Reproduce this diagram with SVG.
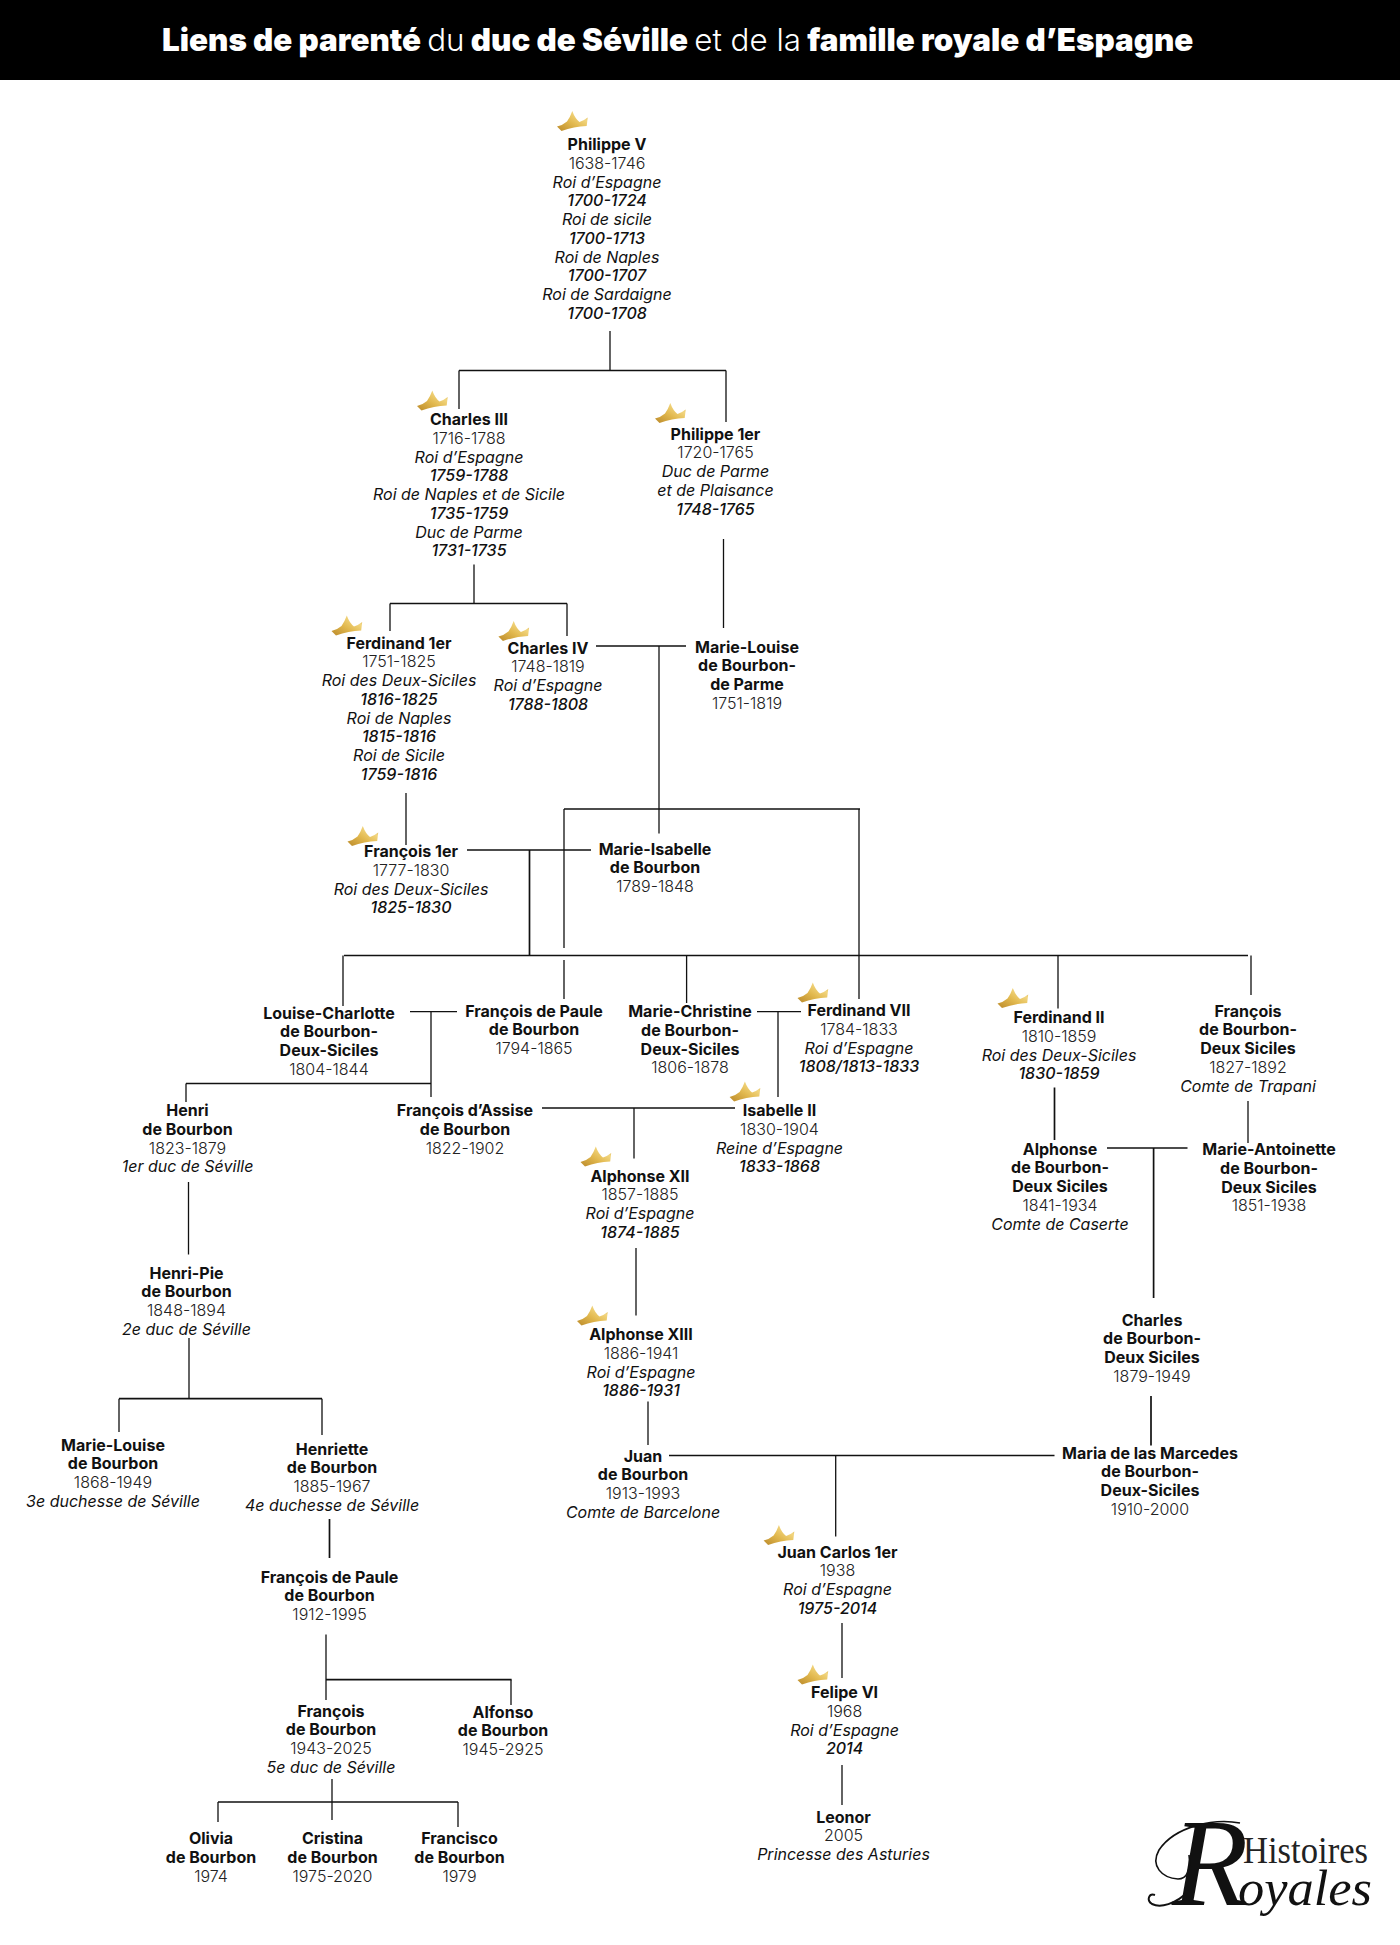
<svg xmlns="http://www.w3.org/2000/svg" width="1400" height="1945" viewBox="0 0 1400 1945">
<style>
text{font-family:"Inter","Noto Sans","Liberation Sans",sans-serif;font-size:16px;text-anchor:middle;fill:#111}
.n{font-weight:700}
.d{font-weight:300;fill:#222}
.t{font-style:italic;font-weight:400}
.y{font-style:italic;font-weight:500}
text.title{font-size:31.35px;fill:#fff;font-weight:900}
.title .l{font-weight:300}
.c path{fill:none;stroke:#111;stroke-width:1.3}
.c path.h{stroke-width:1.7}
text.lg{font-family:"Liberation Serif",serif;text-anchor:start;fill:#111}
text.lg1{font-size:37px;fill:#222}
text.lg2{font-size:125px;font-style:italic}
text.lg3{font-size:50px;font-style:italic}
</style>
<defs>
<linearGradient id="gold" x1="0" y1="1" x2="1" y2="0"><stop offset="0" stop-color="#bb8a2a"/><stop offset=".45" stop-color="#e2b94f"/><stop offset=".75" stop-color="#f2d680"/><stop offset="1" stop-color="#c99b36"/></linearGradient>
<path id="crown" d="M-15,4Q-9,2.5-5,-1Q-2,-5 .3,-11.5Q3,-4 7.5,-.5Q12,-2 15.7,-5L14.7,3.5Q2,4-10.5,8.5Q-13,6-15,4Z" fill="url(#gold)"/>
</defs>
<rect id="banner" width="1400" height="80" fill="#000"/>
<text class="title" x="677.7" y="51">Liens de parenté <tspan class="l">du</tspan> duc de Séville <tspan class="l">et de la</tspan> famille royale d’Espagne</text>
<g class="c" id="connectors">
<path d="M610,331V370.5"/><path class="h" d="M459,370.5H726"/><path d="M459,370.5V409M726,370.5V422"/>
<path d="M474,564.5V603.5"/><path d="M723.5,539V628"/><path class="h" d="M390,603.5H567"/><path d="M390,603.5V631M567,603.5V636"/>
<path d="M596,646H686"/><path d="M659,646V833.5"/><path class="h" d="M564,809H860"/><path d="M564,809V948M564,960V999M859,809V999"/>
<path d="M406,793V845"/><path class="h" d="M467,850H591"/><path class="h" d="M529.5,850V955.5"/><path class="h" d="M344,955.5H1248"/>
<path d="M343,955.5V1006M686.6,955.5V1003M1058,955.5V1008.5M1251,955.5V995"/>
<path d="M410,1011.6H457M431,1011.6V1097"/><path class="h" d="M186,1083.5H431"/><path d="M186,1083.5V1102"/>
<path d="M757,1011.6H801M778,1011.6V1097"/><path class="h" d="M542,1108H735"/><path d="M634,1108V1158.5"/><path d="M636,1248V1315.6"/>
<path d="M188.5,1182V1254.5"/><path class="h" d="M1054.5,1087.5V1140"/><path d="M1248,1101V1143"/><path class="h" d="M1107,1148H1187.5"/><path class="h" d="M1153.6,1148V1298"/>
<path class="h" d="M1151,1396V1445.6"/><path d="M189,1338V1398.7"/><path class="h" d="M119,1398.7H322"/><path d="M119,1398.7V1432M322,1398.7V1435"/>
<path d="M648,1401.6V1445"/><path class="h" d="M669,1455.5H1054.5"/><path d="M835.7,1455.5V1536.5"/><path d="M842,1623V1678M842,1765V1805"/>
<path class="h" d="M329.5,1519V1558"/><path d="M326,1634.4V1700"/><path class="h" d="M326,1679.7H511.6"/><path d="M511,1679.7V1705"/>
<path d="M332,1779V1820"/><path class="h" d="M218,1802H458"/><path d="M218,1802V1822M458,1802V1827"/>
</g>
<g id="philippe-v"><use href="#crown" x="572" y="122.5"/><text y="150"><tspan class="n" x="607">Philippe V</tspan><tspan class="d" x="607" dy="18.75">1638-1746</tspan><tspan class="t" x="607" dy="18.75">Roi d’Espagne</tspan><tspan class="y" x="607" dy="18.75">1700-1724</tspan><tspan class="t" x="607" dy="18.75">Roi de sicile</tspan><tspan class="y" x="607" dy="18.75">1700-1713</tspan><tspan class="t" x="607" dy="18.75">Roi de Naples</tspan><tspan class="y" x="607" dy="18.75">1700-1707</tspan><tspan class="t" x="607" dy="18.75">Roi de Sardaigne</tspan><tspan class="y" x="607" dy="18.75">1700-1708</tspan></text></g>
<g id="charles-iii"><use href="#crown" x="432" y="402"/><text y="425"><tspan class="n" x="469">Charles III</tspan><tspan class="d" x="469" dy="18.75">1716-1788</tspan><tspan class="t" x="469" dy="18.75">Roi d’Espagne</tspan><tspan class="y" x="469" dy="18.75">1759-1788</tspan><tspan class="t" x="469" dy="18.75">Roi de Naples et de Sicile</tspan><tspan class="y" x="469" dy="18.75">1735-1759</tspan><tspan class="t" x="469" dy="18.75">Duc de Parme</tspan><tspan class="y" x="469" dy="18.75">1731-1735</tspan></text></g>
<g id="philippe-1er"><use href="#crown" x="670" y="414.5"/><text y="439.5"><tspan class="n" x="715.5">Philippe 1er</tspan><tspan class="d" x="715.5" dy="18.75">1720-1765</tspan><tspan class="t" x="715.5" dy="18.75">Duc de Parme</tspan><tspan class="t" x="715.5" dy="18.75">et de Plaisance</tspan><tspan class="y" x="715.5" dy="18.75">1748-1765</tspan></text></g>
<g id="ferdinand-1er"><use href="#crown" x="346.5" y="627"/><text y="648.5"><tspan class="n" x="399">Ferdinand 1er</tspan><tspan class="d" x="399" dy="18.75">1751-1825</tspan><tspan class="t" x="399" dy="18.75">Roi des Deux-Siciles</tspan><tspan class="y" x="399" dy="18.75">1816-1825</tspan><tspan class="t" x="399" dy="18.75">Roi de Naples</tspan><tspan class="y" x="399" dy="18.75">1815-1816</tspan><tspan class="t" x="399" dy="18.75">Roi de Sicile</tspan><tspan class="y" x="399" dy="18.75">1759-1816</tspan></text></g>
<g id="charles-iv"><use href="#crown" x="513.4" y="632.6"/><text y="653.5"><tspan class="n" x="548">Charles IV</tspan><tspan class="d" x="548" dy="18.75">1748-1819</tspan><tspan class="t" x="548" dy="18.75">Roi d’Espagne</tspan><tspan class="y" x="548" dy="18.75">1788-1808</tspan></text></g>
<g id="marie-louise-parme"><text y="652.5"><tspan class="n" x="747">Marie-Louise</tspan><tspan class="n" x="747" dy="18.75">de Bourbon-</tspan><tspan class="n" x="747" dy="18.75">de Parme</tspan><tspan class="d" x="747" dy="18.75">1751-1819</tspan></text></g>
<g id="francois-1er"><use href="#crown" x="362.5" y="837.5"/><text y="857"><tspan class="n" x="411">François 1er</tspan><tspan class="d" x="411" dy="18.75">1777-1830</tspan><tspan class="t" x="411" dy="18.75">Roi des Deux-Siciles</tspan><tspan class="y" x="411" dy="18.75">1825-1830</tspan></text></g>
<g id="marie-isabelle"><text y="854.5"><tspan class="n" x="655">Marie-Isabelle</tspan><tspan class="n" x="655" dy="18.75">de Bourbon</tspan><tspan class="d" x="655" dy="18.75">1789-1848</tspan></text></g>
<g id="louise-charlotte"><text y="1018.5"><tspan class="n" x="329">Louise-Charlotte</tspan><tspan class="n" x="329" dy="18.75">de Bourbon-</tspan><tspan class="n" x="329" dy="18.75">Deux-Siciles</tspan><tspan class="d" x="329" dy="18.75">1804-1844</tspan></text></g>
<g id="francois-de-paule"><text y="1016.5"><tspan class="n" x="534">François de Paule</tspan><tspan class="n" x="534" dy="18.75">de Bourbon</tspan><tspan class="d" x="534" dy="18.75">1794-1865</tspan></text></g>
<g id="marie-christine"><text y="1017"><tspan class="n" x="690">Marie-Christine</tspan><tspan class="n" x="690" dy="18.75">de Bourbon-</tspan><tspan class="n" x="690" dy="18.75">Deux-Siciles</tspan><tspan class="d" x="690" dy="18.75">1806-1878</tspan></text></g>
<g id="ferdinand-vii"><use href="#crown" x="812.5" y="994"/><text y="1016"><tspan class="n" x="859">Ferdinand VII</tspan><tspan class="d" x="859" dy="18.75">1784-1833</tspan><tspan class="t" x="859" dy="18.75">Roi d’Espagne</tspan><tspan class="y" x="859" dy="18.75">1808/1813-1833</tspan></text></g>
<g id="ferdinand-ii"><use href="#crown" x="1012.5" y="999.5"/><text y="1023"><tspan class="n" x="1059">Ferdinand II</tspan><tspan class="d" x="1059" dy="18.75">1810-1859</tspan><tspan class="t" x="1059" dy="18.75">Roi des Deux-Siciles</tspan><tspan class="y" x="1059" dy="18.75">1830-1859</tspan></text></g>
<g id="francois-trapani"><text y="1016.5"><tspan class="n" x="1248">François</tspan><tspan class="n" x="1248" dy="18.75">de Bourbon-</tspan><tspan class="n" x="1248" dy="18.75">Deux Siciles</tspan><tspan class="d" x="1248" dy="18.75">1827-1892</tspan><tspan class="t" x="1248" dy="18.75">Comte de Trapani</tspan></text></g>
<g id="henri"><text y="1116"><tspan class="n" x="187.5">Henri</tspan><tspan class="n" x="187.5" dy="18.75">de Bourbon</tspan><tspan class="d" x="187.5" dy="18.75">1823-1879</tspan><tspan class="t" x="187.5" dy="18.75">1er duc de Séville</tspan></text></g>
<g id="francois-assise"><text y="1116"><tspan class="n" x="465">François d’Assise</tspan><tspan class="n" x="465" dy="18.75">de Bourbon</tspan><tspan class="d" x="465" dy="18.75">1822-1902</tspan></text></g>
<g id="isabelle-ii"><use href="#crown" x="744.6" y="1093"/><text y="1116"><tspan class="n" x="779.5">Isabelle II</tspan><tspan class="d" x="779.5" dy="18.75">1830-1904</tspan><tspan class="t" x="779.5" dy="18.75">Reine d’Espagne</tspan><tspan class="y" x="779.5" dy="18.75">1833-1868</tspan></text></g>
<g id="alphonse-xii"><use href="#crown" x="595.5" y="1158"/><text y="1181.5"><tspan class="n" x="640">Alphonse XII</tspan><tspan class="d" x="640" dy="18.75">1857-1885</tspan><tspan class="t" x="640" dy="18.75">Roi d’Espagne</tspan><tspan class="y" x="640" dy="18.75">1874-1885</tspan></text></g>
<g id="alphonse-caserte"><text y="1154.5"><tspan class="n" x="1060">Alphonse</tspan><tspan class="n" x="1060" dy="18.75">de Bourbon-</tspan><tspan class="n" x="1060" dy="18.75">Deux Siciles</tspan><tspan class="d" x="1060" dy="18.75">1841-1934</tspan><tspan class="t" x="1060" dy="18.75">Comte de Caserte</tspan></text></g>
<g id="marie-antoinette"><text y="1155"><tspan class="n" x="1269">Marie-Antoinette</tspan><tspan class="n" x="1269" dy="18.75">de Bourbon-</tspan><tspan class="n" x="1269" dy="18.75">Deux Siciles</tspan><tspan class="d" x="1269" dy="18.75">1851-1938</tspan></text></g>
<g id="henri-pie"><text y="1278.5"><tspan class="n" x="186.5">Henri-Pie</tspan><tspan class="n" x="186.5" dy="18.75">de Bourbon</tspan><tspan class="d" x="186.5" dy="18.75">1848-1894</tspan><tspan class="t" x="186.5" dy="18.75">2e duc de Séville</tspan></text></g>
<g id="alphonse-xiii"><use href="#crown" x="592" y="1317"/><text y="1340"><tspan class="n" x="641">Alphonse XIII</tspan><tspan class="d" x="641" dy="18.75">1886-1941</tspan><tspan class="t" x="641" dy="18.75">Roi d’Espagne</tspan><tspan class="y" x="641" dy="18.75">1886-1931</tspan></text></g>
<g id="charles-deux-siciles"><text y="1325.5"><tspan class="n" x="1152">Charles</tspan><tspan class="n" x="1152" dy="18.75">de Bourbon-</tspan><tspan class="n" x="1152" dy="18.75">Deux Siciles</tspan><tspan class="d" x="1152" dy="18.75">1879-1949</tspan></text></g>
<g id="marie-louise-seville"><text y="1450.5"><tspan class="n" x="113">Marie-Louise</tspan><tspan class="n" x="113" dy="18.75">de Bourbon</tspan><tspan class="d" x="113" dy="18.75">1868-1949</tspan><tspan class="t" x="113" dy="18.75">3e duchesse de Séville</tspan></text></g>
<g id="henriette"><text y="1454.5"><tspan class="n" x="332">Henriette</tspan><tspan class="n" x="332" dy="18.75">de Bourbon</tspan><tspan class="d" x="332" dy="18.75">1885-1967</tspan><tspan class="t" x="332" dy="18.75">4e duchesse de Séville</tspan></text></g>
<g id="juan"><text y="1461.5"><tspan class="n" x="643">Juan</tspan><tspan class="n" x="643" dy="18.75">de Bourbon</tspan><tspan class="d" x="643" dy="18.75">1913-1993</tspan><tspan class="t" x="643" dy="18.75">Comte de Barcelone</tspan></text></g>
<g id="maria-mercedes"><text y="1458.5"><tspan class="n" x="1150">Maria de las Marcedes</tspan><tspan class="n" x="1150" dy="18.75">de Bourbon-</tspan><tspan class="n" x="1150" dy="18.75">Deux-Siciles</tspan><tspan class="d" x="1150" dy="18.75">1910-2000</tspan></text></g>
<g id="juan-carlos"><use href="#crown" x="778.6" y="1536.5"/><text y="1557.5"><tspan class="n" x="837.5">Juan Carlos 1er</tspan><tspan class="d" x="837.5" dy="18.75">1938</tspan><tspan class="t" x="837.5" dy="18.75">Roi d’Espagne</tspan><tspan class="y" x="837.5" dy="18.75">1975-2014</tspan></text></g>
<g id="francois-de-paule-2"><text y="1582.5"><tspan class="n" x="329.5">François de Paule</tspan><tspan class="n" x="329.5" dy="18.75">de Bourbon</tspan><tspan class="d" x="329.5" dy="18.75">1912-1995</tspan></text></g>
<g id="felipe-vi"><use href="#crown" x="812.5" y="1676"/><text y="1698"><tspan class="n" x="844.6">Felipe VI</tspan><tspan class="d" x="844.6" dy="18.75">1968</tspan><tspan class="t" x="844.6" dy="18.75">Roi d’Espagne</tspan><tspan class="y" x="844.6" dy="18.75">2014</tspan></text></g>
<g id="francois-5e"><text y="1716.5"><tspan class="n" x="331">François</tspan><tspan class="n" x="331" dy="18.75">de Bourbon</tspan><tspan class="d" x="331" dy="18.75">1943-2025</tspan><tspan class="t" x="331" dy="18.75">5e duc de Séville</tspan></text></g>
<g id="alfonso"><text y="1717.5"><tspan class="n" x="503">Alfonso</tspan><tspan class="n" x="503" dy="18.75">de Bourbon</tspan><tspan class="d" x="503" dy="18.75">1945-2925</tspan></text></g>
<g id="leonor"><text y="1822.5"><tspan class="n" x="843.5">Leonor</tspan><tspan class="d" x="843.5" dy="18.75">2005</tspan><tspan class="t" x="843.5" dy="18.75">Princesse des Asturies</tspan></text></g>
<g id="olivia"><text y="1844"><tspan class="n" x="211">Olivia</tspan><tspan class="n" x="211" dy="18.75">de Bourbon</tspan><tspan class="d" x="211" dy="18.75">1974</tspan></text></g>
<g id="cristina"><text y="1844"><tspan class="n" x="332.5">Cristina</tspan><tspan class="n" x="332.5" dy="18.75">de Bourbon</tspan><tspan class="d" x="332.5" dy="18.75">1975-2020</tspan></text></g>
<g id="francisco"><text y="1844"><tspan class="n" x="459.5">Francisco</tspan><tspan class="n" x="459.5" dy="18.75">de Bourbon</tspan><tspan class="d" x="459.5" dy="18.75">1979</tspan></text></g>
<g id="logo">
<text class="lg lg1" x="1243" y="1862.7" textLength="125" lengthAdjust="spacingAndGlyphs">Histoires</text>
<text class="lg lg2" x="1172" y="1905">R</text>
<text class="lg lg3" x="1238" y="1905" textLength="134" lengthAdjust="spacingAndGlyphs">oyales</text>
<path d="M1240,1823C1215,1818 1175,1826 1159,1850C1150,1866 1162,1878 1178,1879C1187,1879 1191,1870 1189,1855" fill="none" stroke="#111" stroke-width="1.6"/>
<path d="M1190,1890C1175,1905 1160,1908 1152,1904C1146,1900 1149,1893 1155,1895" fill="none" stroke="#111" stroke-width="2"/>
</g>
</svg>
